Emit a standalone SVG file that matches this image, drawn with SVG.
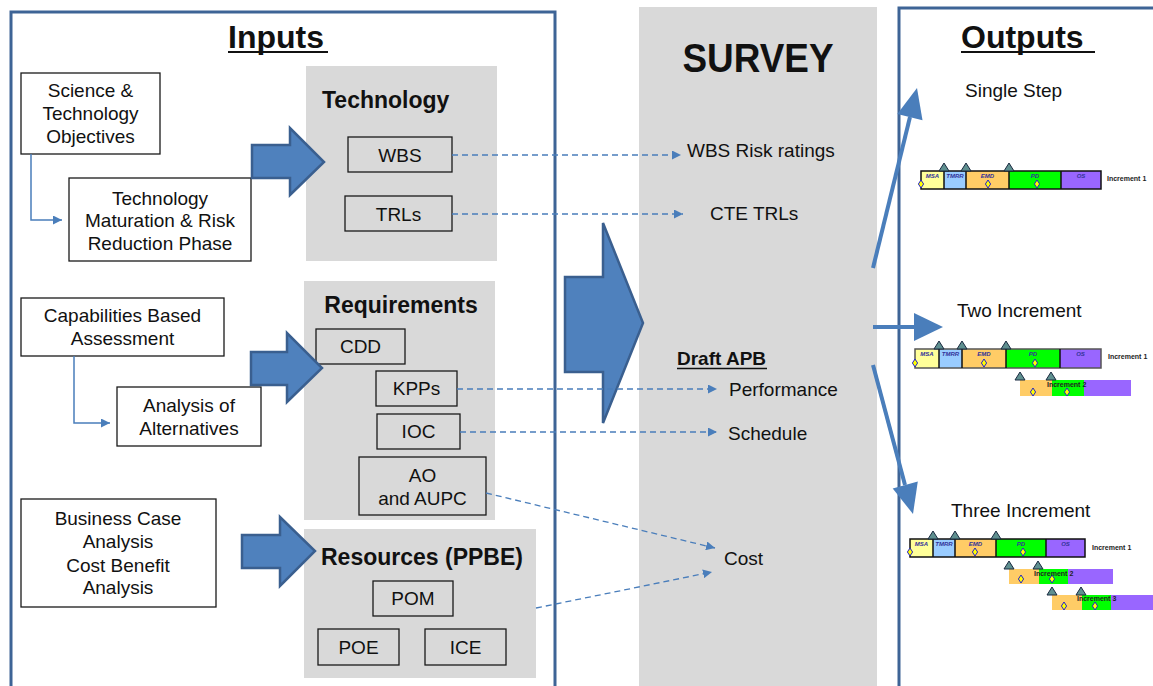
<svg xmlns="http://www.w3.org/2000/svg" xmlns:xlink="http://www.w3.org/1999/xlink" width="1153" height="686" viewBox="0 0 1153 686">
  <style>
    text { font-family: "Liberation Sans", Arial, sans-serif; fill: #111; }
    .t19 { font-size: 19px; }
    .ctr { text-anchor: middle; }
    .hdr { font-size: 23px; font-weight: bold; }
    .title { font-size: 32px; font-weight: bold; }
    .box { fill: #fff; stroke: #1a1a1a; stroke-width: 1.3; }
    .tbox { fill: none; stroke: #1a1a1a; stroke-width: 1.3; }
    .panel { fill: #d9d9d9; }
    .frame { fill: none; stroke: #3e6496; stroke-width: 3; }
    .block { fill: #4f81bd; stroke: #3a5f8f; stroke-width: 2.5; stroke-linejoin: miter; }
    .elbow { fill: none; stroke: #4a7ebb; stroke-width: 1.5; }
    .dash { fill: none; stroke: #4a7ebb; stroke-width: 1.3; stroke-dasharray: 6 4; }
    .out { fill: none; stroke: #4a7ebb; stroke-width: 4; }
    .outhead { fill: #4a7ebb; }
    .seg { stroke: none; }
    .bar { fill: none; stroke: #111; stroke-width: 1.5; }
    .bar2 { fill: none; stroke: #555; stroke-width: 1.5; }
    .phase { font-size: 6px; font-weight: bold; font-style: italic; fill: #333399; text-anchor: middle; }
    .inc { font-size: 7px; font-weight: bold; fill: #222; }
    .msa { fill: #ffff99; } .tmrr { fill: #99ccff; } .emd { fill: #ffcc66; } .pd { fill: #00ff00; } .os { fill: #9966ff; }
  </style>
  <defs>
    <marker id="tip" viewBox="0 0 10 10" refX="10" refY="5" markerWidth="9" markerHeight="9" markerUnits="userSpaceOnUse" orient="auto">
      <path d="M0,0 L10,5 L0,10 Z" fill="#4a7ebb"/>
    </marker>
    <!-- milestone triangle and decision diamond -->
    <polygon id="ms" points="-5,0 0,-8 5,0" fill="#5f9090" stroke="#1a2a40" stroke-width="1"/>
    <polygon id="dm" points="0,-4 2.6,0 0,4 -2.6,0" fill="#ffff00" stroke="#2323cc" stroke-width="1"/>
  </defs>

  <rect width="1153" height="686" fill="#fff"/>

  <!-- survey column -->
  <g id="survey">
    <rect class="panel" x="639" y="7" width="238" height="679"/>
    <text x="758" y="72" font-size="40" font-weight="bold" text-anchor="middle" textLength="151" lengthAdjust="spacingAndGlyphs">SURVEY</text>
    <text class="t19" x="687" y="157">WBS Risk ratings</text>
    <text class="t19" x="710" y="220">CTE TRLs</text>
    <text x="677" y="365" font-size="19" font-weight="bold">Draft APB</text>
    <line x1="677" y1="368.5" x2="767" y2="368.5" stroke="#111" stroke-width="1.5"/>
    <text class="t19" x="729" y="396">Performance</text>
    <text class="t19" x="728" y="440">Schedule</text>
    <text class="t19" x="724" y="565">Cost</text>
  </g>

  <!-- inputs frame -->
  <g id="inputs">
    <path class="frame" d="M11,690 V12 H555 V690"/>
    <text class="title" x="228" y="48">Inputs</text>
    <line x1="228" y1="52" x2="328" y2="52" stroke="#111" stroke-width="2"/>
  </g>

  <!-- outputs frame -->
  <g id="outputs">
    <path class="frame" d="M899,690 V8 H1160"/>
    <text class="title" x="961" y="48">Outputs</text>
    <line x1="961" y1="52" x2="1095" y2="52" stroke="#111" stroke-width="2"/>
  </g>

  <!-- technology -->
  <g id="science-tech">
    <rect class="box" x="21" y="73" width="139" height="81"/>
    <text class="t19 ctr" x="90.5" y="97">Science &amp;</text>
    <text class="t19 ctr" x="90.5" y="120">Technology</text>
    <text class="t19 ctr" x="90.5" y="143">Objectives</text>
  </g>
  <g id="tmrr-phase">
    <rect class="box" x="69" y="178" width="182" height="83"/>
    <text class="t19 ctr" x="160" y="205">Technology</text>
    <text class="t19 ctr" x="160" y="227">Maturation &amp; Risk</text>
    <text class="t19 ctr" x="160" y="250">Reduction Phase</text>
  </g>
  <g id="technology">
    <rect class="panel" x="306" y="66" width="191" height="195"/>
    <text class="hdr" x="322" y="108">Technology</text>
  </g>
  <g id="wbs">
    <rect class="tbox" x="348" y="137" width="104" height="35"/>
    <text class="t19 ctr" x="400" y="161.5">WBS</text>
  </g>
  <g id="trls">
    <rect class="tbox" x="345" y="196" width="107" height="35"/>
    <text class="t19 ctr" x="398.5" y="220.5">TRLs</text>
  </g>

  <!-- requirements -->
  <g id="cba">
    <rect class="box" x="21" y="298" width="203" height="58"/>
    <text class="t19 ctr" x="122.5" y="322">Capabilities Based</text>
    <text class="t19 ctr" x="122.5" y="345">Assessment</text>
  </g>
  <g id="aoa">
    <rect class="box" x="117" y="387" width="144" height="59"/>
    <text class="t19 ctr" x="189" y="412">Analysis of</text>
    <text class="t19 ctr" x="189" y="435">Alternatives</text>
  </g>
  <g id="requirements">
    <rect class="panel" x="304" y="281" width="191" height="239"/>
    <text class="hdr ctr" x="401" y="313">Requirements</text>
  </g>
  <g id="cdd">
    <rect class="tbox" x="316" y="329" width="89" height="35"/>
    <text class="t19 ctr" x="360.5" y="353">CDD</text>
  </g>
  <g id="kpps">
    <rect class="tbox" x="376" y="371" width="81" height="35"/>
    <text class="t19 ctr" x="416.5" y="395">KPPs</text>
  </g>
  <g id="ioc">
    <rect class="tbox" x="377" y="414" width="83" height="35"/>
    <text class="t19 ctr" x="418.5" y="438">IOC</text>
  </g>
  <g id="ao-aupc">
    <rect class="tbox" x="359" y="457" width="127" height="58"/>
    <text class="t19 ctr" x="422.5" y="482">AO</text>
    <text class="t19 ctr" x="422.5" y="505">and AUPC</text>
  </g>

  <!-- resources -->
  <g id="business-case">
    <rect class="box" x="21" y="499" width="195" height="108"/>
    <text class="t19 ctr" x="118" y="525">Business Case</text>
    <text class="t19 ctr" x="118" y="548">Analysis</text>
    <text class="t19 ctr" x="118" y="572">Cost Benefit</text>
    <text class="t19 ctr" x="118" y="594">Analysis</text>
  </g>
  <g id="resources">
    <rect class="panel" x="304" y="529" width="232" height="149"/>
    <text class="hdr" x="321" y="565">Resources (PPBE)</text>
  </g>
  <g id="pom">
    <rect class="tbox" x="373" y="581" width="80" height="35"/>
    <text class="t19 ctr" x="413" y="605">POM</text>
  </g>
  <g id="poe">
    <rect class="tbox" x="318" y="629" width="81" height="36"/>
    <text class="t19 ctr" x="358.5" y="654">POE</text>
  </g>
  <g id="ice">
    <rect class="tbox" x="425" y="629" width="81" height="36"/>
    <text class="t19 ctr" x="465.5" y="654">ICE</text>
  </g>

  <!-- output schedules -->
  <g id="single-step">
    <text class="t19" x="965" y="97">Single Step</text>
    <rect class="msa" x="921" y="171" width="23" height="18"/>
    <rect class="tmrr" x="944" y="171" width="22" height="18"/>
    <rect class="emd" x="966" y="171" width="43" height="18"/>
    <rect class="pd" x="1009" y="171" width="52" height="18"/>
    <rect class="os" x="1061" y="171" width="40" height="18"/>
    <path class="bar" d="M921,171 H1101 V189 H921 Z M944,171 V189 M966,171 V189 M1009,171 V189 M1061,171 V189"/>
    <text class="phase" x="932.5" y="178">MSA</text>
    <text class="phase" x="955" y="178">TMRR</text>
    <text class="phase" x="987.5" y="178">EMD</text>
    <text class="phase" x="1035" y="178">PD</text>
    <text class="phase" x="1081" y="178">OS</text>
    <use href="#ms" x="944" y="171"/><use href="#ms" x="966" y="171"/><use href="#ms" x="1009" y="171"/>
    <use href="#dm" x="921" y="184"/><use href="#dm" x="988" y="184"/><use href="#dm" x="1037" y="184"/>
    <text class="inc" x="1107" y="181">Increment 1</text>
  </g>

  <g id="two-increment">
    <text class="t19" x="957" y="317">Two Increment</text>
    <rect class="msa" x="915" y="349" width="24" height="19"/>
    <rect class="tmrr" x="939" y="349" width="23" height="19"/>
    <rect class="emd" x="962" y="349" width="44" height="19"/>
    <rect class="pd" x="1006" y="349" width="54" height="19"/>
    <rect class="os" x="1060" y="349" width="41" height="19"/>
    <path class="bar2" d="M915,349 H1101 V368 H915 Z"/>
    <path class="bar" d="M939,349 V368 M962,349 V368 M1006,349 V368 M1060,349 V368"/>
    <text class="phase" x="927" y="356">MSA</text>
    <text class="phase" x="950.5" y="356">TMRR</text>
    <text class="phase" x="984" y="356">EMD</text>
    <text class="phase" x="1033" y="356">PD</text>
    <text class="phase" x="1080.5" y="356">OS</text>
    <use href="#ms" x="939" y="349"/><use href="#ms" x="962" y="349"/><use href="#ms" x="1006" y="349"/>
    <use href="#dm" x="915" y="363"/><use href="#dm" x="984" y="363"/><use href="#dm" x="1035" y="363"/>
    <text class="inc" x="1108" y="359">Increment 1</text>
    <rect class="emd" x="1020" y="380" width="32" height="16"/>
    <rect class="pd" x="1052" y="380" width="32" height="16"/>
    <rect class="os" x="1084" y="380" width="47" height="16"/>
    <use href="#ms" x="1020" y="380"/><use href="#ms" x="1051" y="380"/>
    <use href="#dm" x="1033" y="392"/><use href="#dm" x="1067" y="392"/>
    <text class="inc" x="1047" y="386.5">Increment 2</text>
  </g>

  <g id="three-increment">
    <text class="t19" x="951" y="517">Three Increment</text>
    <rect class="msa" x="910" y="539" width="23" height="18"/>
    <rect class="tmrr" x="933" y="539" width="22" height="18"/>
    <rect class="emd" x="955" y="539" width="41" height="18"/>
    <rect class="pd" x="996" y="539" width="50" height="18"/>
    <rect class="os" x="1046" y="539" width="39" height="18"/>
    <path class="bar" d="M910,539 H1085 V557 H910 Z M933,539 V557 M955,539 V557 M996,539 V557 M1046,539 V557"/>
    <text class="phase" x="921.5" y="546">MSA</text>
    <text class="phase" x="944" y="546">TMRR</text>
    <text class="phase" x="975.5" y="546">EMD</text>
    <text class="phase" x="1021" y="546">PD</text>
    <text class="phase" x="1065.5" y="546">OS</text>
    <use href="#ms" x="933" y="539"/><use href="#ms" x="955" y="539"/><use href="#ms" x="996" y="539"/>
    <use href="#dm" x="910" y="552"/><use href="#dm" x="975" y="552"/><use href="#dm" x="1023" y="552"/>
    <text class="inc" x="1092" y="549.5">Increment 1</text>
    <rect class="emd" x="1009" y="569" width="30" height="15"/>
    <rect class="pd" x="1039" y="569" width="29" height="15"/>
    <rect class="os" x="1068" y="569" width="45" height="15"/>
    <use href="#ms" x="1009" y="569"/><use href="#ms" x="1038" y="569"/>
    <use href="#dm" x="1021" y="579"/><use href="#dm" x="1052" y="579"/>
    <text class="inc" x="1034" y="575.5">Increment 2</text>
    <rect class="emd" x="1052" y="595" width="30" height="15"/>
    <rect class="pd" x="1082" y="595" width="29" height="15"/>
    <rect class="os" x="1111" y="595" width="45" height="15"/>
    <use href="#ms" x="1052" y="595"/><use href="#ms" x="1081" y="595"/>
    <use href="#dm" x="1064" y="606"/><use href="#dm" x="1095" y="606"/>
    <text class="inc" x="1077" y="600.5">Increment 3</text>
  </g>

  <!-- connectors -->
  <g id="connectors">
    <path class="elbow" d="M31,154 V220 H62" marker-end="url(#tip)"/>
    <path class="elbow" d="M74,356 V423 H110" marker-end="url(#tip)"/>

    <polygon class="block" points="252,145 290,145 290,128 324,162 290,195 290,178 252,178"/>
    <polygon class="block" points="251,352 287,352 287,333 322,368 287,402 287,385 251,385"/>
    <polygon class="block" points="242,535 280,535 280,517 315,551 280,586 280,568 242,568"/>
    <polygon class="block" points="565,277 603,277 603,223 643,323 603,423 603,372 565,372"/>

    <line class="dash" x1="452" y1="155" x2="681" y2="155" marker-end="url(#tip)"/>
    <line class="dash" x1="452" y1="214" x2="683" y2="214" marker-end="url(#tip)"/>
    <line class="dash" x1="457" y1="389" x2="717" y2="389" marker-end="url(#tip)"/>
    <line class="dash" x1="460" y1="432" x2="717" y2="432" marker-end="url(#tip)"/>
    <line class="dash" x1="486" y1="493" x2="715" y2="548" marker-end="url(#tip)"/>
    <line class="dash" x1="536" y1="608" x2="712" y2="572" marker-end="url(#tip)"/>

    <line class="out" x1="873" y1="268" x2="910" y2="117"/>
    <polygon class="outhead" points="897.3,114 917,88 922.5,120.2"/>
    <line class="out" x1="873" y1="327" x2="915" y2="327"/>
    <polygon class="outhead" points="914,313 943,327 914,341"/>
    <line class="out" x1="873" y1="365" x2="905" y2="485"/>
    <polygon class="outhead" points="892.7,488.4 913,514 917.8,481.6"/>
  </g>
</svg>
